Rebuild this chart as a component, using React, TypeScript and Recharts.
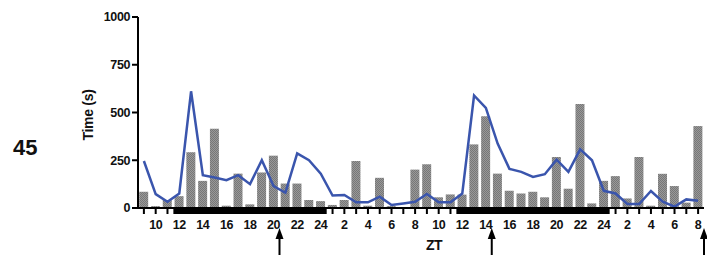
import React from 'react';
import { ComposedChart, Bar, Line, XAxis, YAxis, ReferenceArea, ReferenceLine } from 'recharts';

// ZT hour of each slot: day 1 from ZT9, day 2 full, day 3 up to ZT8
const hours = [
  9, 10, 11, 12, 13, 14, 15, 16, 17, 18, 19, 20, 21, 22, 23, 24,
  1, 2, 3, 4, 5, 6, 7, 8, 9, 10, 11, 12, 13, 14, 15, 16, 17, 18, 19, 20, 21, 22, 23, 24,
  1, 2, 3, 4, 5, 6, 7, 8,
];

const barSeconds = [
  85, 10, 42, 62, 292, 142, 415, 12, 180, 19, 186, 274, 128, 128, 42, 36,
  16, 42, 246, 12, 158, 10, 5, 201, 229, 56, 71, 70, 333, 481, 180, 90, 76, 85, 56, 267, 101, 545, 24, 142,
  167, 50, 267, 12, 179, 115, 28, 429,
];

const lineSeconds = [
  246, 73, 33, 76, 611, 172, 160, 146, 172, 125, 250, 115, 80, 286, 250, 180,
  65, 68, 30, 30, 59, 16, 24, 33, 73, 30, 30, 76, 589, 524, 337, 205, 189, 163, 177, 253, 189, 307, 250, 90,
  76, 21, 21, 89, 33, 7, 45, 38,
];

const yTicks = [0, 250, 500, 750, 1000];

// dark phase (ZT12-24) as slot ranges, arrows at end of these slots
const darkPhases = [
  { from: 3, to: 15 },
  { from: 27, to: 39 },
];
const arrowSlots = [11, 29, 47];

const data = hours.map((h, i) => ({
  slot: `s${i}`,
  hour: h,
  seconds: barSeconds[i],
  mean: lineSeconds[i],
}));

const font = '"Liberation Sans", Arial, sans-serif';

const Arrow = (props: any) => {
  const x = props.x1;
  const top = Math.min(props.y1, props.y2);
  const bottom = Math.max(props.y1, props.y2);
  return (
    <g>
      <line x1={x} y1={top + 8} x2={x} y2={bottom} stroke="#000" strokeWidth={2} />
      <polygon points={`${x},${top} ${x - 4},${top + 11} ${x + 4},${top + 11}`} fill="#000" />
    </g>
  );
};

export default function App() {
  return (
    <div style={{ position: 'absolute', left: 0, top: 0, width: 707, height: 255, fontFamily: font }}>
      <div style={{ position: 'absolute', left: 13, top: 135, fontSize: 22, fontWeight: 700, color: '#111' }}>45</div>
      <div
        style={{
          position: 'absolute', left: 88, top: 115, fontSize: 14, fontWeight: 700, color: '#111',
          transform: 'translate(-50%, -50%) rotate(-90deg)', whiteSpace: 'nowrap', letterSpacing: -0.3,
        }}
      >
        Time (s)
      </div>
      <div
        style={{
          position: 'absolute', left: 434, top: 245, fontSize: 14, fontWeight: 700, color: '#111',
          transform: 'translate(-50%, -50%)', letterSpacing: -0.5,
        }}
      >
        ZT
      </div>
      <ComposedChart width={707} height={255} data={data} margin={{ top: 17, right: 3, left: 78, bottom: 17 }}
        barCategoryGap="10%" style={{ position: 'absolute', left: 0, top: 0 }}>
        <defs>
          <pattern id="dither" width="2" height="2" patternUnits="userSpaceOnUse">
            <rect width="2" height="2" fill="#999999" />
            <rect width="1" height="1" fill="#777777" />
            <rect x="1" y="1" width="1" height="1" fill="#777777" />
          </pattern>
        </defs>
        <XAxis
          dataKey="slot"
          interval={0}
          height={30}
          tickSize={6}
          tickMargin={6}
          axisLine={{ stroke: '#000', strokeWidth: 2 }}
          tickLine={{ stroke: '#000', strokeWidth: 2 }}
          tick={{ fill: '#111', fontSize: 12.5, fontWeight: 700, fontFamily: font, letterSpacing: -0.4 }}
          tickFormatter={(v: string) => {
            const h = hours[Number(v.slice(1))];
            return h % 2 === 0 ? String(h) : '';
          }}
        />
        <YAxis
          domain={[0, 1000]}
          ticks={yTicks}
          width={60}
          tickSize={6}
          tickMargin={2}
          allowDataOverflow
          axisLine={{ stroke: '#000', strokeWidth: 2 }}
          tickLine={{ stroke: '#000', strokeWidth: 2 }}
          tick={{ fill: '#111', fontSize: 12.5, fontWeight: 700, fontFamily: font, letterSpacing: -0.4 }}
        />
        {darkPhases.map((p) => (
          <ReferenceArea key={p.from} x1={`s${p.from}`} x2={`s${p.to}`} y1={0} y2={-31}
            ifOverflow="visible" fill="#000" fillOpacity={1} stroke="none" />
        ))}
        {arrowSlots.map((s) => (
          <ReferenceLine key={s} position="end" ifOverflow="visible"
            segment={[{ x: `s${s}`, y: -105 }, { x: `s${s}`, y: -260 }]} shape={Arrow} />
        ))}
        <Bar dataKey="seconds" fill="url(#dither)" isAnimationActive={false} />
        <Line dataKey="mean" type="linear" stroke="#3a55ad" strokeWidth={2.5} dot={false} isAnimationActive={false} />
      </ComposedChart>
    </div>
  );
}
